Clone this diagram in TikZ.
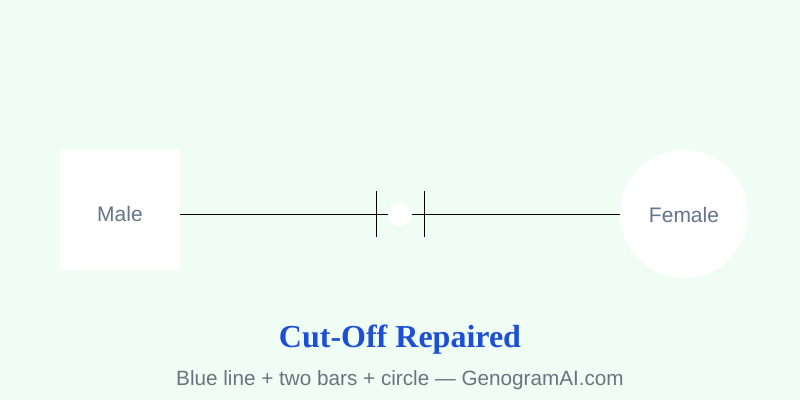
\documentclass[tikz,border=0pt]{standalone}
\usepackage{fontspec}
\setmainfont{Liberation Sans}
\newfontfamily\titlefont{Liberation Serif}
\usetikzlibrary{calc}
\definecolor{bgmint}{HTML}{F0FDF4}
\definecolor{labelgray}{HTML}{64748B}
\definecolor{subgray}{HTML}{6B7280}
\definecolor{titleblue}{HTML}{1D4ED8}
\tikzset{
	person/.style={fill=white,draw=none,inner sep=0pt},
	persontext/.style={text=labelgray,font=\fontsize{21}{24}\selectfont},
	link/.style={black,line width=0.9pt}
}
\begin{document}
\begin{tikzpicture}[x=1pt,y=-1pt]
\useasboundingbox[fill=bgmint] (0,0) rectangle (800,400);
% persons
\node[person,minimum size=120pt] (male) at (120,210) {};
\node[person,circle,minimum size=128pt] (female) at (684,214) {};
\node[persontext] (maletext) at (120,214) {Male};
\node[persontext] (femaletext) at (684,215) {Female};
\coordinate (mr) at (male.east|-female.center);
%link
\draw[link] (mr)--(female.west);
%bars
\foreach \x in {376,424}{
	\coordinate (b\x t) at (\x,191);
	\coordinate (b\x b) at (\x,237);
	\draw[link] (b\x t)--(b\x b);
}
%repair circle
\node[circle,fill=white,minimum size=24pt,inner sep=0pt] (repair) at (400,214) {};
% caption
\node[text=titleblue,font=\titlefont\bfseries\fontsize{32}{36}\selectfont] (title) at (400,340) {Cut-Off Repaired};
\node[text=subgray,font=\fontsize{20.7}{23}\selectfont] (sub) at (400,380) {Blue line + two bars + circle — GenogramAI.com};
\end{tikzpicture}
\end{document}
